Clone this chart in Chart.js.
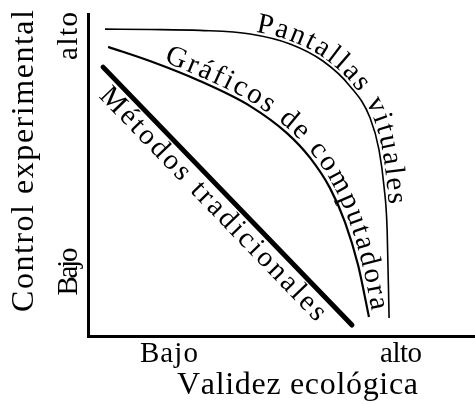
<!DOCTYPE html>
<html><head><meta charset="utf-8">
<script src="https://cdn.jsdelivr.net/npm/chart.js@4.4.1/dist/chart.umd.min.js"></script>
<style>html,body{margin:0;padding:0;background:#fff;overflow:hidden}canvas{display:block}</style>
</head><body>
<canvas id="c" width="475" height="404"></canvas>
<script>
// ---- data (axes are qualitative 0..10) ----
const xTitle = 'Validez ecológica';
const yTitle = 'Control experimental';
const xTickValues = [2.09, 8.09];
const xTickLabels = ['Bajo', 'alto'];
const yTickValues = [2.0, 9.32];
const yTickLabels = ['Bajo', 'alto'];
const seriesNames = ['Pantallas vituales', 'Gráficos de computadora', 'Métodos tradicionales'];
const pantallasX = [0.44, 1.60, 2.89, 4.19, 5.22, 6.07, 6.77, 7.29, 7.52, 7.65, 7.73, 7.78];
const pantallasY = [9.53, 9.52, 9.49, 9.38, 9.07, 8.54, 7.76, 6.77, 5.78, 4.63, 3.29, 0.56];
const graficosX = [0.52, 1.60, 2.89, 4.19, 5.14, 5.74, 6.25, 6.64, 6.98, 7.26];
const graficosY = [8.98, 8.54, 7.92, 7.14, 6.30, 5.53, 4.60, 3.54, 2.20, 0.59];
const metodosX = [0.39, 6.82];
const metodosY = [8.35, 0.34];

// ---- layout / style (not data) ----
const SERIF = '"Liberation Serif", "Times New Roman", serif';
const TICK_FONT = '29px ' + SERIF;
const TITLE_FONT = '32px ' + SERIF;
const CURVE_FONT = '29px ' + SERIF;
const xTickWidths = [58, 42];
const yTickWidths = [48, 48];
// label placement along each series: start/end anchor (data coords), baseline offset (px, + = above)
const curveLabelPlacement = [
  {start: [4.32, 9.38], end: [7.70, 4.07], offset: 3},
  {start: [1.94, 8.45], end: [7.24, 0.75], offset: 4},
  {start: [0.72, 7.92], end: [6.33, 0.99], offset: -24}
];

const pts = (xs, ys) => xs.map((x, i) => ({x, y: ys[i]}));

function polyPointAt(poly, cum, s) {
  const total = cum[cum.length - 1];
  s = Math.min(Math.max(s, 0), total);
  let i = 1;
  while (i < cum.length - 1 && cum[i] < s) i++;
  const seg = cum[i] - cum[i - 1] || 1;
  const t = (s - cum[i - 1]) / seg;
  return {x: poly[i - 1].x + (poly[i].x - poly[i - 1].x) * t, y: poly[i - 1].y + (poly[i].y - poly[i - 1].y) * t};
}
function cumLen(poly) {
  const c = [0];
  for (let i = 1; i < poly.length; i++) c.push(c[i - 1] + Math.hypot(poly[i].x - poly[i - 1].x, poly[i].y - poly[i - 1].y));
  return c;
}
function drawAlong(ctx, poly, text, s0, s1, font) {
  const cum = cumLen(poly);
  ctx.font = font;
  const chars = Array.from(text);
  const ws = chars.map(c => ctx.measureText(c).width);
  const natural = ws.reduce((a, b) => a + b, 0);
  const gap = chars.length > 1 ? ((s1 - s0) - natural) / (chars.length - 1) : 0;
  let s = s0;
  chars.forEach((c, i) => {
    const mid = s + ws[i] / 2;
    const p = polyPointAt(poly, cum, mid);
    const h = Math.max(ws[i] / 2, 3);
    const a1 = polyPointAt(poly, cum, mid - h), a2 = polyPointAt(poly, cum, mid + h);
    const ang = Math.atan2(a2.y - a1.y, a2.x - a1.x);
    ctx.save();
    ctx.translate(p.x, p.y);
    ctx.rotate(ang);
    ctx.textAlign = 'center';
    ctx.textBaseline = 'alphabetic';
    ctx.fillText(c, 0, 0);
    ctx.restore();
    s += ws[i] + gap;
  });
}
function samplePath(meta) {
  const el = meta.data;
  const out = [];
  for (let i = 0; i < el.length - 1; i++) {
    const a = el[i], b = el[i + 1];
    const hasCp = a.cp2x !== undefined && b.cp1x !== undefined;
    const n = 40;
    for (let k = (i === 0 ? 0 : 1); k <= n; k++) {
      const t = k / n;
      if (!hasCp) { out.push({x: a.x + (b.x - a.x) * t, y: a.y + (b.y - a.y) * t}); continue; }
      const u = 1 - t;
      out.push({
        x: u*u*u*a.x + 3*u*u*t*a.cp2x + 3*u*t*t*b.cp1x + t*t*t*b.x,
        y: u*u*u*a.y + 3*u*u*t*a.cp2y + 3*u*t*t*b.cp1y + t*t*t*b.y
      });
    }
  }
  return out;
}
function offsetPath(path, d) {
  return path.map((p, i) => {
    const a = path[Math.max(0, i - 1)], b = path[Math.min(path.length - 1, i + 1)];
    let tx = b.x - a.x, ty = b.y - a.y;
    const L = Math.hypot(tx, ty) || 1; tx /= L; ty /= L;
    return {x: p.x + d * ty, y: p.y - d * tx};
  });
}
function nearestIndex(path, q) {
  let best = 0, bd = Infinity;
  path.forEach((p, i) => { const d = Math.hypot(p.x - q.x, p.y - q.y); if (d < bd) { bd = d; best = i; } });
  return best;
}

const labelPlugin = {
  id: 'labelPlugin',
  afterDraw(chart) {
    const ctx = chart.ctx;
    const xs = chart.scales.x, ys = chart.scales.y;
    const area = chart.chartArea;
    ctx.save();
    ctx.fillStyle = '#000';
    // x tick labels
    const xb = area.bottom + 26;
    xTickValues.forEach((v, i) => {
      const cx = xs.getPixelForValue(v), w = xTickWidths[i];
      drawAlong(ctx, [{x: cx - w / 2, y: xb}, {x: cx + w / 2, y: xb}], xTickLabels[i], 0, w, TICK_FONT);
    });
    // y tick labels (rotated)
    const yb = area.left - 11;
    yTickValues.forEach((v, i) => {
      const cy = ys.getPixelForValue(v), w = yTickWidths[i];
      drawAlong(ctx, [{x: yb, y: cy + w / 2}, {x: yb, y: cy - w / 2}], yTickLabels[i], 0, w, TICK_FONT);
    });
    // axis titles
    drawAlong(ctx, [{x: 177, y: 394}, {x: 418, y: 394}], xTitle, 0, 241, TITLE_FONT);
    drawAlong(ctx, [{x: 33, y: 312}, {x: 33, y: 10}], yTitle, 0, 302, TITLE_FONT);
    // labels along the series
    chart.data.datasets.forEach((ds, di) => {
      const meta = chart.getDatasetMeta(di);
      const place = curveLabelPlacement[di];
      const path = samplePath(meta);
      const off = offsetPath(path, place.offset);
      const cum = cumLen(off);
      const sp = {x: xs.getPixelForValue(place.start[0]), y: ys.getPixelForValue(place.start[1])};
      const ep = {x: xs.getPixelForValue(place.end[0]), y: ys.getPixelForValue(place.end[1])};
      const i0 = nearestIndex(path, sp), i1 = nearestIndex(path, ep);
      drawAlong(ctx, off, ds.label, cum[i0], cum[i1], CURVE_FONT);
    });
    ctx.restore();
  }
};

new Chart(document.getElementById('c'), {
  type: 'scatter',
  data: {
    datasets: [
      {label: seriesNames[0], data: pts(pantallasX, pantallasY), showLine: true, borderColor: '#000', borderWidth: 1.6, cubicInterpolationMode: 'monotone', pointRadius: 0, fill: false},
      {label: seriesNames[1], data: pts(graficosX, graficosY), showLine: true, borderColor: '#000', borderWidth: 2.2, cubicInterpolationMode: 'monotone', pointRadius: 0, fill: false},
      {label: seriesNames[2], data: pts(metodosX, metodosY), showLine: true, borderColor: '#000', borderWidth: 5, borderCapStyle: 'round', tension: 0, pointRadius: 0, fill: false}
    ]
  },
  options: {
    responsive: false,
    devicePixelRatio: 1,
    animation: false,
    events: [],
    layout: {padding: {top: 14, left: 0, right: 0, bottom: 0}},
    plugins: {legend: {display: false}, tooltip: {enabled: false}},
    scales: {
      x: {
        type: 'linear', min: 0, max: 10,
        grid: {display: false, drawTicks: false},
        border: {display: true, width: 3, color: '#000'},
        ticks: {display: false},
        afterBuildTicks: s => { s.ticks = xTickValues.map(v => ({value: v})); },
        afterFit: s => { s.height = 68; }
      },
      y: {
        type: 'linear', min: 0, max: 10,
        grid: {display: false, drawTicks: false},
        border: {display: true, width: 3, color: '#000'},
        ticks: {display: false},
        afterBuildTicks: s => { s.ticks = yTickValues.map(v => ({value: v})); },
        afterFit: s => { s.width = 88; }
      }
    }
  },
  plugins: [labelPlugin]
});
</script>
</body></html>
